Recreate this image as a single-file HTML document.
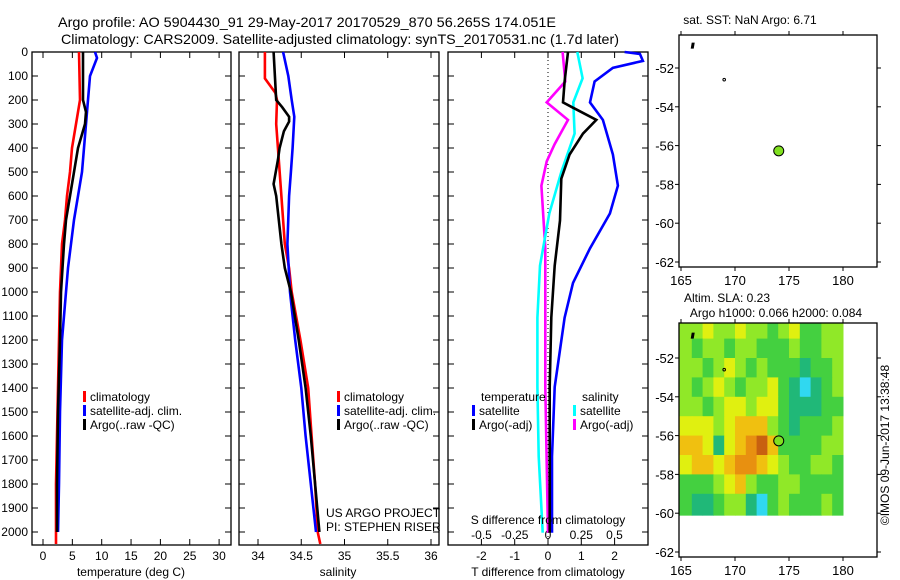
<!DOCTYPE html>
<html><head><meta charset="utf-8"><style>
html,body{margin:0;padding:0;background:#fff;}
svg{display:block;font-family:"Liberation Sans",sans-serif;}
</style></head><body>
<svg id="fig" width="900" height="580" viewBox="0 0 900 580" xmlns="http://www.w3.org/2000/svg">
<text x="58" y="27" font-size="14" textLength="498" lengthAdjust="spacingAndGlyphs">Argo profile: AO 5904430_91 29-May-2017 20170529_870 56.265S 174.051E</text>
<text x="61" y="44" font-size="14" textLength="558" lengthAdjust="spacingAndGlyphs">Climatology: CARS2009. Satellite-adjusted climatology: synTS_20170531.nc (1.7d later)</text>
<g id="g"></g>
<text x="326" y="517" font-size="12">US ARGO PROJECT</text>
<text x="326" y="531" font-size="12">PI: STEPHEN RISER</text>
<text x="750" y="24" font-size="12" text-anchor="middle">sat. SST: NaN Argo: 6.71</text>
<text x="727" y="302" font-size="12" text-anchor="middle">Altim. SLA: 0.23</text>
<text x="776" y="317" font-size="12" text-anchor="middle">Argo h1000: 0.066 h2000: 0.084</text>
<text transform="translate(889,445) rotate(-90)" font-size="12" text-anchor="middle">©IMOS 09-Jun-2017 13:38:48</text>
</svg>
<script>
// ---- data ----
const depthTicks=[0,100,200,300,400,500,600,700,800,900,1000,1100,1200,1300,1400,1500,1600,1700,1800,1900,2000];
const tempTicks=[0,5,10,15,20,25,30];
const salTicks=[34,34.5,35,35.5,36];
const tdTicks=[-2,-1,0,1,2];
const sdTicks=[-0.5,-0.25,0,0.25,0.5];
const sdTickLabels=['-0.5','-0.25','0','0.25','0.5'];
const tClimDepth=[0,200,250,300,400,500,600,700,800,900,1000,1200,1400,1600,1800,2050];
const tClim=[6.13,6.3,5.96,5.62,4.94,4.6,4.09,3.75,3.24,3.07,2.9,2.73,2.56,2.39,2.21,2.21];
const tArgoDepth=[0,200,250,300,400,500,600,700,800,1000,1200,1500,1800,2000];
const tArgo=[6.81,6.81,7.33,7.16,5.96,5.28,4.6,3.92,3.58,3.07,2.9,2.56,2.39,2.39];
const tSatDepth=[0,25,100,200,300,400,500,600,700,800,900,1000,1200,1500,1800,2000];
const tSat=[8.86,9.2,8.0,7.67,7.33,6.98,6.64,5.96,5.28,4.77,4.26,3.92,3.24,2.9,2.73,2.56];
const sClimDepth=[0,110,170,200,300,450,600,700,800,900,1000,1200,1400,1600,1800,2000,2050];
const sClim=[34.08,34.08,34.2,34.22,34.21,34.24,34.27,34.29,34.31,34.36,34.39,34.49,34.58,34.62,34.66,34.69,34.72];
const sArgoDepth=[0,200,230,270,290,330,400,450,550,600,800,900,1000,1200,1400,1600,1800,2000];
const sArgo=[34.18,34.21,34.28,34.36,34.36,34.3,34.25,34.23,34.18,34.21,34.27,34.31,34.38,34.47,34.55,34.61,34.66,34.71];
const sSatDepth=[0,100,200,270,400,500,600,800,1000,1200,1400,1600,1800,2000];
const sSat=[34.29,34.35,34.39,34.42,34.4,34.38,34.36,34.34,34.37,34.43,34.5,34.55,34.61,34.67];
const dtSatDepth=[0,8,37,66,123,210,283,427,557,673,818,962,1107,1396,1685,2003];
const dtSat=[2.3,2.76,2.85,1.95,1.4,1.26,1.65,1.95,2.1,1.86,1.26,0.75,0.5,0.2,0.12,0.12];
const dtArgoDepth=[0,123,210,232,283,340,427,528,702,890,1107,1396,2003];
const dtArgo=[0.6,0.5,0.45,0.75,1.45,1.05,0.65,0.4,0.36,0.2,0.1,0.05,0.05];
const dsSatDepth=[0,109,210,340,500,673,890,1107,1396,1685,2003];
const dsSat=[0.22,0.26,0.19,0.2,0.1,0.01,-0.06,-0.08,-0.08,-0.07,-0.04];
const dsArgoDepth=[0,123,210,283,384,456,557,818,1396,2003];
const dsArgo=[0.11,0.13,-0.01,0.15,0.05,-0.01,-0.05,-0.02,-0.02,0];
const lonTicks=[165,170,175,180];
const latTicks=[-52,-54,-56,-58,-60,-62];
const floatLon=174.05, floatLat=-56.27;
const slaLons=[165,166,167,168,169,170,171,172,173,174,175,176,177,178,179];
const slaLats=[-50.2,-51,-52,-53,-54,-55,-56,-57,-58,-59];
const slaGrid=[
[3,3,4,3,3,4,3,3,2,3,4,2,2,3,3],
[3,2,3,3,2,3,3,2,2,2,3,2,2,3,3],
[3,3,2,3,4,3,2,3,2,2,2,1,2,2,3],
[3,2,3,4,3,2,3,3,4,2,1,0,1,2,3],
[3,3,2,3,4,4,3,4,4,2,1,1,1,2,2],
[4,4,4,3,4,5,5,5,3,2,1,2,2,2,3],
[5,5,4,1,4,5,6,7,5,2,2,2,2,3,3],
[4,5,5,4,5,6,6,5,4,3,2,2,3,3,2],
[2,2,2,3,4,5,3,2,2,3,3,2,2,2,2],
[2,1,1,2,3,3,1,0,2,3,2,2,2,3,2]];
// ---- drawing ----
const NS='http://www.w3.org/2000/svg';
const G=document.getElementById('g');
function mk(t,a,p){const e=document.createElementNS(NS,t);for(const k in a)e.setAttribute(k,a[k]);(p||G).appendChild(e);return e;}
const Y0=52,Y1=545;
const yD=d=>52+d*0.24;
function panel(x0,x1,name){
  const r=mk('rect',{x:x0,y:Y0,width:x1-x0,height:Y1-Y0,fill:'none',stroke:'#000','stroke-width':1.3});
  
  
  depthTicks.forEach(d=>{const y=yD(d);mk('line',{x1:x0,x2:x0+6,y1:y,y2:y,stroke:'#000'});mk('line',{x1:x1,x2:x1-6,y1:y,y2:y,stroke:'#000'});});
}
function xTicks(vals,fx,labels,ly,name,bottom){
  vals.forEach((v,i)=>{const x=fx(v);
    if(bottom){mk('line',{x1:x,x2:x,y1:Y1,y2:Y1-6,stroke:'#000'});mk('line',{x1:x,x2:x,y1:Y0,y2:Y0+6,stroke:'#000'});}
    const t=mk('text',{x:x,y:ly,'font-size':12,'text-anchor':'middle'});t.textContent=labels[i];
    
    });
}
function line(ds,vs,fx,col,name){
  const pts=ds.map((d,i)=>fx(vs[i]).toFixed(1)+','+yD(d).toFixed(1)).join(' ');
  const p=mk('polyline',{points:pts,fill:'none',stroke:col,'stroke-width':2.6,'stroke-linejoin':'miter'});
  
  
}
function legend(x,y,col,label,name){
  mk('rect',{x:x,y:y-10,width:3,height:11,fill:col});
  const t=mk('text',{x:x+7,y:y,'font-size':12});t.textContent=label;
  
  
}
depthTicks.forEach(d=>{const t=mk('text',{x:28,y:yD(d)+4,'font-size':12,'text-anchor':'end'});t.textContent=d;
  
  });
const fT=v=>43+v*5.87;
panel(32,231,'temperature-panel');
xTicks(tempTicks,fT,tempTicks.map(String),560,'temperature',true);
line(tClimDepth,tClim,fT,'#f00','temp-climatology-line');
line(tSatDepth,tSat,fT,'#00f','temp-satellite-line');
line(tArgoDepth,tArgo,fT,'#000','temp-argo-line');
legend(83,401,'#f00','climatology','legend-climatology');
legend(83,415,'#00f','satellite-adj. clim.','legend-satellite');
legend(83,429,'#000','Argo(..raw -QC)','legend-argo');
let t=mk('text',{x:131,y:576,'font-size':12,'text-anchor':'middle'});t.textContent='temperature (deg C)';


const fS=v=>258+(v-34)*86.5;
panel(239,439,'salinity-panel');
xTicks(salTicks,fS,salTicks.map(String),560,'salinity',true);
line(sClimDepth,sClim,fS,'#f00','sal-climatology-line');
line(sSatDepth,sSat,fS,'#00f','sal-satellite-line');
line(sArgoDepth,sArgo,fS,'#000','sal-argo-line');
legend(337,401,'#f00','climatology','legend-climatology-2');
legend(337,415,'#00f','satellite-adj. clim.','legend-satellite-2');
legend(337,429,'#000','Argo(..raw -QC)','legend-argo-2');
t=mk('text',{x:338,y:576,'font-size':12,'text-anchor':'middle'});t.textContent='salinity';


const fdT=v=>548+v*33.3;
const fdS=v=>548+v*133;
panel(448,648,'difference-panel');
mk('line',{x1:548,x2:548,y1:Y0,y2:Y1,stroke:'#000','stroke-dasharray':'1,3'});
xTicks(tdTicks,fdT,tdTicks.map(String),560,'t-difference',true);
xTicks(sdTicks,fdS,sdTickLabels,539,'s-difference',false);
line(dsArgoDepth,dsArgo,fdS,'#f0f','sdiff-argo-line');
line(dsSatDepth,dsSat,fdS,'#0ff','sdiff-satellite-line');
line(dtSatDepth,dtSat,fdT,'#00f','tdiff-satellite-line');
line(dtArgoDepth,dtArgo,fdT,'#000','tdiff-argo-line');
t=mk('text',{x:481,y:401,'font-size':12});t.textContent='temperature';


t=mk('text',{x:582,y:401,'font-size':12});t.textContent='salinity';


legend(472,415,'#00f','satellite','legend-t-satellite');
legend(472,429,'#000','Argo(-adj)','legend-t-argo');
legend(573,415,'#0ff','satellite','legend-s-satellite');
legend(573,429,'#f0f','Argo(-adj)','legend-s-argo');
t=mk('text',{x:548,y:524,'font-size':12,'text-anchor':'middle'});t.textContent='S difference from climatology';


t=mk('text',{x:548,y:576,'font-size':12,'text-anchor':'middle'});t.textContent='T difference from climatology';


const colors=['#30d8f0','#20b878','#44d040','#90e828','#e0f010','#f0c010','#e89010','#c86010'];
function mapAxes(top,bot,lat0,fx,name,heat){
  const fy=v=>lat0+(-52-v)*19.4;
  if(heat){
    slaLats.forEach((la,r)=>{const yTop=fy(la),yB=fy(r<slaLats.length-1?slaLats[r+1]:-60.1);
      slaLons.forEach((lo,c)=>{const xl=c===0?679:fx(lo);const cell=mk('rect',{x:xl,y:yTop,width:fx(lo+1)-xl+0.5,height:yB-yTop+0.5,fill:colors[slaGrid[r][c]]});
        
        });});
  }
  const b=mk('rect',{x:679,y:top,width:198,height:bot-top,fill:'none',stroke:'#000','stroke-width':1.3});
  
  
  lonTicks.forEach(l=>{const x=fx(l);mk('line',{x1:x,x2:x,y1:bot,y2:bot+4,stroke:'#000'});mk('line',{x1:x,x2:x,y1:top,y2:top-4,stroke:'#000'});
    const tt=mk('text',{x:x,y:bot+18,'font-size':13,'text-anchor':'middle'});tt.textContent=l;
    
    });
  latTicks.forEach(l=>{const y=fy(l);mk('line',{x1:679,x2:675,y1:y,y2:y,stroke:'#000'});mk('line',{x1:877,x2:881,y1:y,y2:y,stroke:'#000'});
    const tt=mk('text',{x:674,y:y+5,'font-size':13,'text-anchor':'end'});tt.textContent=l;
    
    });
  mk('path',{d:`M${fx(165.9)},${fy(-51)} l1,-6 l3,0 l-1,6 z`,fill:'#000'});
  mk('circle',{cx:fx(169),cy:fy(-52.6),r:1.3,fill:'none',stroke:'#000'});
  const c=mk('circle',{cx:fx(floatLon),cy:fy(floatLat),r:5,fill:'#80e020',stroke:'#000'});
  
  
}
const fLon=v=>681+(v-165)*10.8;
mapAxes(35,267,68,fLon,'sst-map',false);
mapAxes(323,557,358,fLon,'sla-map',true);
</script>
</body></html>
